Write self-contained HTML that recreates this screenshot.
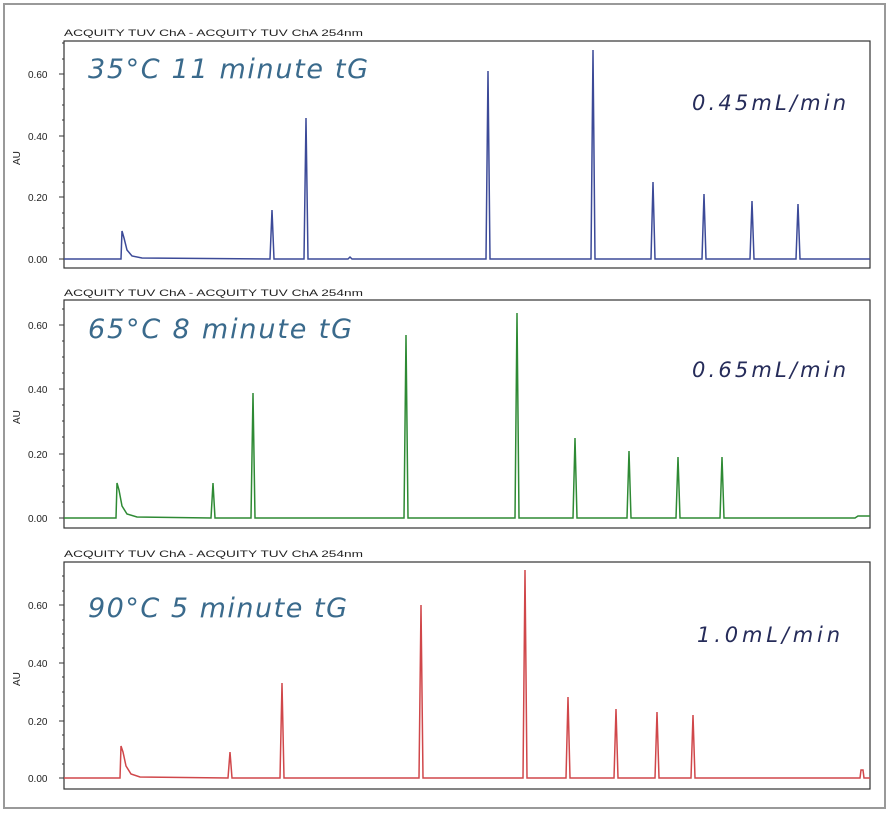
<!DOCTYPE html>
<html><head><meta charset="utf-8"><style>
html,body{margin:0;padding:0;background:#fff;}
svg{display:block;}
.t{font-family:"Liberation Sans",sans-serif;font-size:9px;fill:#222;}
.y{font-family:"Liberation Sans",sans-serif;font-size:10px;fill:#222;}
.big{font-family:"DejaVu Sans","Liberation Sans",sans-serif;font-style:italic;font-size:27px;fill:#3a6a8c;}
.fr{font-family:"DejaVu Sans","Liberation Sans",sans-serif;font-style:italic;font-size:21px;fill:#262c5a;}
</style></head><body>
<svg width="892" height="816" viewBox="0 0 892 816" xmlns="http://www.w3.org/2000/svg">
<rect x="4" y="4" width="881" height="804" fill="#fff" stroke="#999" stroke-width="2"/>

<!-- Panel 1 -->
<text class="t" x="64" y="36" textLength="299" lengthAdjust="spacingAndGlyphs">ACQUITY TUV ChA - ACQUITY TUV ChA 254nm</text>
<rect x="64" y="41" width="806" height="227" fill="#fff" stroke="#333" stroke-width="1.2"/>
<g stroke="#333" stroke-width="1">
<line x1="59" y1="259" x2="64" y2="259"/><line x1="59" y1="197" x2="64" y2="197"/><line x1="59" y1="136" x2="64" y2="136"/><line x1="59" y1="74" x2="64" y2="74"/>
<line x1="62" y1="243" x2="64" y2="243"/><line x1="62" y1="228" x2="64" y2="228"/><line x1="62" y1="213" x2="64" y2="213"/><line x1="62" y1="182" x2="64" y2="182"/><line x1="62" y1="166" x2="64" y2="166"/><line x1="62" y1="151" x2="64" y2="151"/><line x1="62" y1="120" x2="64" y2="120"/><line x1="62" y1="105" x2="64" y2="105"/><line x1="62" y1="89" x2="64" y2="89"/><line x1="62" y1="59" x2="64" y2="59"/><line x1="62" y1="43" x2="64" y2="43"/>
</g>
<text class="y" x="28" y="263">0.00</text><text class="y" x="28" y="201">0.20</text><text class="y" x="28" y="140">0.40</text><text class="y" x="28" y="78">0.60</text>
<text class="y" transform="translate(20,165) rotate(-90)">AU</text>
<text class="big" x="88" y="78" textLength="280" lengthAdjust="spacing">35°C  11 minute tG</text>
<text class="fr" x="692" y="110" textLength="154" lengthAdjust="spacing">0.45mL/min</text>
<path fill="none" stroke="#3c4a98" stroke-width="1.5" d="M64,259 L121,259 L122,231 L124,238 L127,250 L132,256 L142,258 L270,259 L272,210 L274,259 L304,259 L306,118 L308,259 L348,259 L350,257 L352,259 L486,259 L488,71 L490,259 L591,259 L593,50 L595,259 L651,259 L653,182 L655,259 L702,259 L704,194 L706,259 L750,259 L752,201 L754,259 L796,259 L798,204 L800,259 L870,259"/>

<!-- Panel 2 -->
<text class="t" x="64" y="296" textLength="299" lengthAdjust="spacingAndGlyphs">ACQUITY TUV ChA - ACQUITY TUV ChA 254nm</text>
<rect x="64" y="300" width="806" height="228" fill="#fff" stroke="#333" stroke-width="1.2"/>
<g stroke="#333" stroke-width="1">
<line x1="59" y1="518" x2="64" y2="518"/><line x1="59" y1="454" x2="64" y2="454"/><line x1="59" y1="389" x2="64" y2="389"/><line x1="59" y1="325" x2="64" y2="325"/>
<line x1="62" y1="502" x2="64" y2="502"/><line x1="62" y1="486" x2="64" y2="486"/><line x1="62" y1="470" x2="64" y2="470"/><line x1="62" y1="437" x2="64" y2="437"/><line x1="62" y1="421" x2="64" y2="421"/><line x1="62" y1="405" x2="64" y2="405"/><line x1="62" y1="373" x2="64" y2="373"/><line x1="62" y1="357" x2="64" y2="357"/><line x1="62" y1="341" x2="64" y2="341"/><line x1="62" y1="309" x2="64" y2="309"/>
</g>
<text class="y" x="28" y="522">0.00</text><text class="y" x="28" y="458">0.20</text><text class="y" x="28" y="393">0.40</text><text class="y" x="28" y="329">0.60</text>
<text class="y" transform="translate(20,424) rotate(-90)">AU</text>
<text class="big" x="88" y="338" textLength="264" lengthAdjust="spacing">65°C  8 minute tG</text>
<text class="fr" x="692" y="377" textLength="154" lengthAdjust="spacing">0.65mL/min</text>
<path fill="none" stroke="#2e8a34" stroke-width="1.5" d="M64,518 L116,518 L117,483 L119,490 L122,506 L127,514 L137,517 L211,518 L213,483 L215,518 L251,518 L253,393 L255,518 L404,518 L406,335 L408,518 L515,518 L517,313 L519,518 L573,518 L575,438 L577,518 L627,518 L629,451 L631,518 L676,518 L678,457 L680,518 L720,518 L722,457 L724,518 L855,518 L858,516 L870,516"/>

<!-- Panel 3 -->
<text class="t" x="64" y="557" textLength="299" lengthAdjust="spacingAndGlyphs">ACQUITY TUV ChA - ACQUITY TUV ChA 254nm</text>
<rect x="64" y="562" width="806" height="227" fill="#fff" stroke="#333" stroke-width="1.2"/>
<g stroke="#333" stroke-width="1">
<line x1="59" y1="778" x2="64" y2="778"/><line x1="59" y1="721" x2="64" y2="721"/><line x1="59" y1="663" x2="64" y2="663"/><line x1="59" y1="605" x2="64" y2="605"/>
<line x1="62" y1="764" x2="64" y2="764"/><line x1="62" y1="749" x2="64" y2="749"/><line x1="62" y1="735" x2="64" y2="735"/><line x1="62" y1="706" x2="64" y2="706"/><line x1="62" y1="692" x2="64" y2="692"/><line x1="62" y1="677" x2="64" y2="677"/><line x1="62" y1="648" x2="64" y2="648"/><line x1="62" y1="634" x2="64" y2="634"/><line x1="62" y1="620" x2="64" y2="620"/><line x1="62" y1="591" x2="64" y2="591"/><line x1="62" y1="576" x2="64" y2="576"/>
</g>
<text class="y" x="28" y="782">0.00</text><text class="y" x="28" y="725">0.20</text><text class="y" x="28" y="667">0.40</text><text class="y" x="28" y="609">0.60</text>
<text class="y" transform="translate(20,686) rotate(-90)">AU</text>
<text class="big" x="88" y="617" textLength="259" lengthAdjust="spacing">90°C 5 minute tG</text>
<text class="fr" x="697" y="642" textLength="143" lengthAdjust="spacing">1.0mL/min</text>
<path fill="none" stroke="#d0474a" stroke-width="1.5" d="M64,778 L120,778 L121,746 L123,752 L126,766 L131,774 L140,777 L228,778 L230,752 L232,778 L280,778 L282,683 L284,778 L419,778 L421,605 L423,778 L523,778 L525,570 L527,778 L566,778 L568,697 L570,778 L614,778 L616,709 L618,778 L655,778 L657,712 L659,778 L691,778 L693,715 L695,778 L860,778 L861,770 L863,770 L864,778 L870,778"/>
</svg>
</body></html>
